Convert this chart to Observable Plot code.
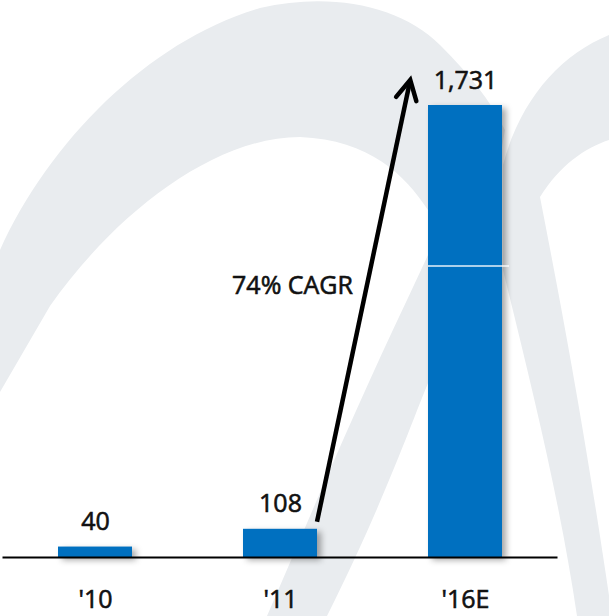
<!DOCTYPE html>
<html><head><meta charset="utf-8">
<script src="https://cdn.jsdelivr.net/npm/d3@7"></script>
<script src="https://cdn.jsdelivr.net/npm/@observablehq/plot@0.6"></script>
<style>
html,body{margin:0;padding:0;background:#fff;}
#wrap{position:relative;width:609px;height:616px;overflow:hidden;background:#fff;}
#bg{position:absolute;left:0;top:0;}
#chart{position:absolute;left:0;top:0;}
#chart svg g[aria-label="bar"]{filter:drop-shadow(4px 3px 3px rgba(0,0,0,0.35));}
#chart svg text{stroke:#111;stroke-width:0.6px;}
</style></head><body>
<div id="wrap">
<svg id="bg" width="609" height="616" viewBox="0 0 609 616">
  <path fill="#E9ECEF" d="M0,250 C50,140 150,40 260,8 C330,-8 400,5 440,45 C470,75 490,100 505,130 L470,330 L428,383 C405,440 380,510 327,616 L267,616 C300,540 350,420 407,300 L428,255 L440,232 L428,210 C405,175 370,140 300,137 C210,137 110,220 50,306 L0,392 Z"/>
  <path fill="#E9ECEF" d="M503,165 C520,100 560,55 609,35 L609,140 C585,148 560,165 540,197 C560,300 585,430 612,616 L577,616 C560,500 530,380 503,270 Z"/>
</svg>
<div id="chart"></div>
</div>
<script>
// Data
const years = ["'10", "'11", "'16E"];
const values = [40, 108, 1731];
const valueLabels = ["40", "108", "1,731"];
const splitYear = ["'16E"];
const splitValue = [1116];
const cagrText = ["74% CAGR"];
const cagrYear = ["'11"];
const cagrValue = [1011];
const arrowFromYear = "'11", arrowFromValue = 108;
const arrowToYear = "'16E", arrowToValue = 1731;

const data = years.map((year, i) => ({year, value: values[i], label: valueLabels[i]}));
const splitData = splitYear.map((year, i) => ({year, value: splitValue[i]}));
const cagrData = cagrText.map((text, i) => ({year: cagrYear[i], value: cagrValue[i], text}));

const blue = "#0070C0";
const ink = "#111";

function arrowMark(index, scales) {
  const x = scales.x, y = scales.y;
  const bw = typeof x.bandwidth === "function" ? x.bandwidth() : (scales.scales && scales.scales.x && scales.scales.x.bandwidth) || 74;
  const x1 = x(arrowFromYear) + bw, y1 = y(arrowFromValue) - 7;
  const x2 = x(arrowToYear) - bw * 0.24, y2 = y(arrowToValue) - 25;
  const dx = x1 - x2, dy = y1 - y2, len = Math.hypot(dx, dy);
  const ux = dx / len, uy = dy / len;
  const a = 28 * Math.PI / 180, L = 22;
  const rot = (ang) => [ux * Math.cos(ang) - uy * Math.sin(ang), ux * Math.sin(ang) + uy * Math.cos(ang)];
  const [lx, ly] = rot(a), [rx, ry] = rot(-a);
  const g = d3.create("svg:g").attr("aria-label", "arrow")
    .attr("fill", "none").attr("stroke", "#000").attr("stroke-width", 4.5);
  g.append("path").attr("d", `M${x1},${y1}L${x2 + ux * 2},${y2 + uy * 2}`);
  g.append("path").attr("stroke-linejoin", "miter").attr("stroke-linecap", "round")
    .attr("d", `M${x2 + lx * L},${y2 + ly * L}L${x2},${y2}L${x2 + rx * L},${y2 + ry * L}`);
  return g.node();
}

const chart = Plot.plot({
  width: 609,
  height: 616,
  marginTop: 105,
  marginBottom: 59,
  marginLeft: 2.5,
  marginRight: 51.5,
  style: {fontFamily: "'Open Sans', 'Noto Sans', sans-serif", fontSize: "25px", color: ink, background: "transparent", overflow: "visible"},
  x: {domain: years, paddingInner: 0.6, paddingOuter: 0.3, align: 0.5, label: null},
  y: {domain: [0, 1731], axis: null},
  marks: [
    Plot.barY(data, {x: "year", y: "value", fill: blue}),
    Plot.tickY(splitData, {x: "year", y: "value", stroke: "#fff", strokeWidth: 1.5, strokeOpacity: 0.9, insetRight: -7}),
    Plot.ruleY([0], {stroke: "#000", strokeWidth: 2}),
    Plot.text(data, {x: "year", y: "value", text: "label", lineAnchor: "bottom", dy: -17, fontSize: 25, fill: ink}),
    Plot.axisX({tickSize: 0, tickPadding: 33, fontSize: 25, fill: ink, label: null}),
    Plot.text(cagrData, {x: "year", y: "value", text: "text", lineAnchor: "bottom", dx: 12, fontSize: 25, fill: ink}),
    arrowMark
  ]
});
document.getElementById("chart").appendChild(chart);
</script>
</body></html>
